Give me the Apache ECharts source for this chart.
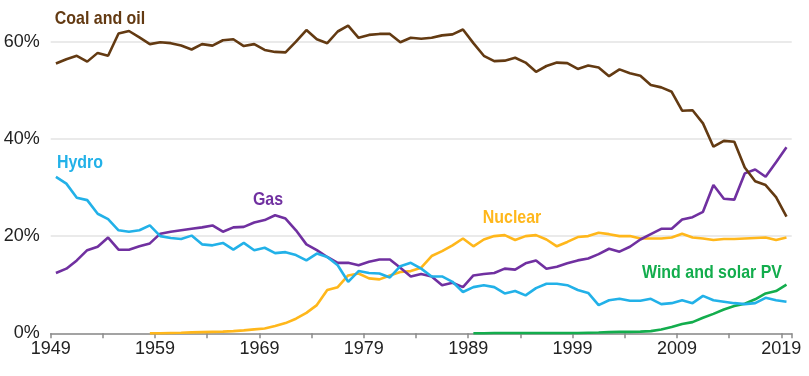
<!DOCTYPE html>
<html>
<head>
<meta charset="utf-8">
<script src="https://cdn.jsdelivr.net/npm/echarts@6/dist/echarts.min.js"></script>
<style>
html,body{margin:0;padding:0;background:#fff;}
#chart{width:809px;height:376px;}
</style>
</head>
<body>
<div id="chart"></div>
<script>
// Years 1949-2019
const years = [];
for (let y = 1949; y <= 2019; y++) years.push(y);

const coalOil = [55.5,56.4,57.1,55.9,57.7,57.1,61.7,62.2,60.9,59.5,
  59.9,59.7,59.2,58.4,59.5,59.2,60.3,60.5,59.1,59.5,
  58.3,57.9,57.8,60.0,62.4,60.5,59.7,62.1,63.3,60.8,
  61.4,61.6,61.6,59.9,60.8,60.6,60.8,61.3,61.5,62.5,
  59.7,57.1,56.0,56.1,56.7,55.7,53.8,55.0,55.7,55.6,
  54.4,55.1,54.7,52.9,54.3,53.5,53.0,51.1,50.6,49.7,
  45.8,45.9,43.2,38.4,39.6,39.4,34.1,31.3,30.5,28.0,24.0];

const hydro = [32.2,30.8,27.9,27.4,24.6,23.5,21.2,20.9,21.2,22.2,
  20.0,19.6,19.4,20.1,18.3,18.1,18.6,17.2,18.6,17.1,
  17.6,16.5,16.7,16.1,15.0,16.4,15.7,14.0,10.6,12.8,
  12.4,12.3,11.5,13.8,14.5,13.3,11.7,11.7,10.6,8.5,
  9.5,9.9,9.5,8.2,8.7,7.8,9.3,10.2,10.2,9.9,
  8.9,8.3,5.8,6.8,7.1,6.7,6.7,7.1,6.0,6.2,
  6.8,6.2,7.7,6.8,6.5,6.2,6.0,6.2,7.3,6.8,6.5];

const gas = [12.4,13.3,15.0,17.1,17.8,19.7,17.2,17.2,17.9,18.5,
  20.5,20.9,21.2,21.5,21.8,22.2,20.9,21.8,21.9,22.8,
  23.3,24.3,23.6,21.2,18.3,17.1,15.7,14.5,14.5,14.0,
  14.7,15.2,15.2,13.5,11.7,12.2,11.7,9.9,10.4,9.5,
  11.9,12.2,12.4,13.3,13.1,14.4,15.0,13.3,13.7,14.4,
  15.0,15.4,16.3,17.4,16.8,17.8,19.3,20.4,21.5,21.5,
  23.4,23.9,25.0,30.5,27.7,27.5,32.9,33.7,32.2,35.2,38.3];

// Nuclear: 1958-2019
const nuclearStart = 1958;
const nuclear = [0.0,0.0,0.05,0.1,0.2,0.25,0.3,0.35,0.45,0.6,
  0.8,1.0,1.5,2.1,3.0,4.2,5.8,8.9,9.5,11.9,
  12.3,11.3,11.1,11.9,12.6,12.8,13.5,15.9,16.9,18.1,
  19.5,17.9,19.3,20.0,20.2,19.2,20.0,20.2,19.3,17.9,
  18.8,19.8,20.0,20.7,20.4,20.0,20.0,19.5,19.5,19.5,
  19.7,20.5,19.7,19.5,19.2,19.4,19.4,19.5,19.6,19.7,19.2,19.7];

// Wind and solar PV: 1989-2019
const windStart = 1989;
const windSolar = [0.0,0.0,0.05,0.05,0.05,0.05,0.05,0.05,0.05,0.05,
  0.05,0.1,0.15,0.25,0.3,0.3,0.35,0.45,0.8,1.3,
  1.9,2.3,3.2,4.0,4.9,5.6,6.1,7.0,8.2,8.7,10.0];

const seriesNames = ['Coal and oil','Hydro','Gas','Nuclear','Wind and solar PV'];
const colors = ['#633a12','#22b1e8','#7030a0','#ffb71b','#13ad4d'];

function pairs(start, vals) {
  return vals.map((v, i) => [start + i + 0.5, v]);
}

const chart = echarts.init(document.getElementById('chart'), null, {renderer: 'canvas'});
const lineW = 2.6;
const dataSets = [
  pairs(years[0], coalOil),
  pairs(years[0], hydro),
  pairs(years[0], gas),
  pairs(nuclearStart, nuclear),
  pairs(windStart, windSolar)
];
const labelFont = 'bold 19px "Liberation Sans", Arial, sans-serif';
const sx = 0.84;

chart.setOption({
  animation: false,
  grid: {left: 50.7, right: 17.3, top: 41.7, bottom: 42.7},
  xAxis: {
    type: 'value', min: 1949, max: 2020, interval: 5,
    splitLine: {show: false},
    axisLine: {lineStyle: {color: '#8c8c8c', width: 1.5}},
    axisTick: {length: 5, lineStyle: {color: '#8c8c8c', width: 1.5}},
    axisLabel: {
      color: '#222', fontSize: 18, fontFamily: '"Liberation Sans", Arial, sans-serif',
      margin: 7,
      formatter: v => ((v - 1949) % 10 === 0 ? String(v) : '')
    }
  },
  yAxis: {
    type: 'value', min: 0, max: 60, interval: 20,
    axisLine: {show: false}, axisTick: {show: false},
    splitLine: {lineStyle: {color: '#e3e3e3', width: 1.5}},
    axisLabel: {
      color: '#222', fontSize: 18, fontFamily: '"Liberation Sans", Arial, sans-serif',
      margin: 11, formatter: v => v + '%'
    }
  },
  series: dataSets.map((d, i) => ({
    name: seriesNames[i], type: 'line', data: d, showSymbol: false, clip: false,
    lineStyle: {color: colors[i], width: lineW}, itemStyle: {color: colors[i]},
    z: 10 - i
  })),
  graphic: [
    {type: 'text', x: 100, y: 18.5, scaleX: sx, style: {text: 'Coal and oil', font: labelFont, fill: colors[0], align: 'center', verticalAlign: 'middle'}},
    {type: 'text', x: 80, y: 162.5, scaleX: sx, style: {text: 'Hydro', font: labelFont, fill: colors[1], align: 'center', verticalAlign: 'middle'}},
    {type: 'text', x: 268, y: 199.5, scaleX: sx, style: {text: 'Gas', font: labelFont, fill: colors[2], align: 'center', verticalAlign: 'middle'}},
    {type: 'text', x: 512, y: 218, scaleX: sx, style: {text: 'Nuclear', font: labelFont, fill: colors[3], align: 'center', verticalAlign: 'middle'}},
    {type: 'text', x: 712, y: 272.5, scaleX: sx, style: {text: 'Wind and solar PV', font: labelFont, fill: colors[4], align: 'center', verticalAlign: 'middle'}}
  ]
});
</script>
</body>
</html>
